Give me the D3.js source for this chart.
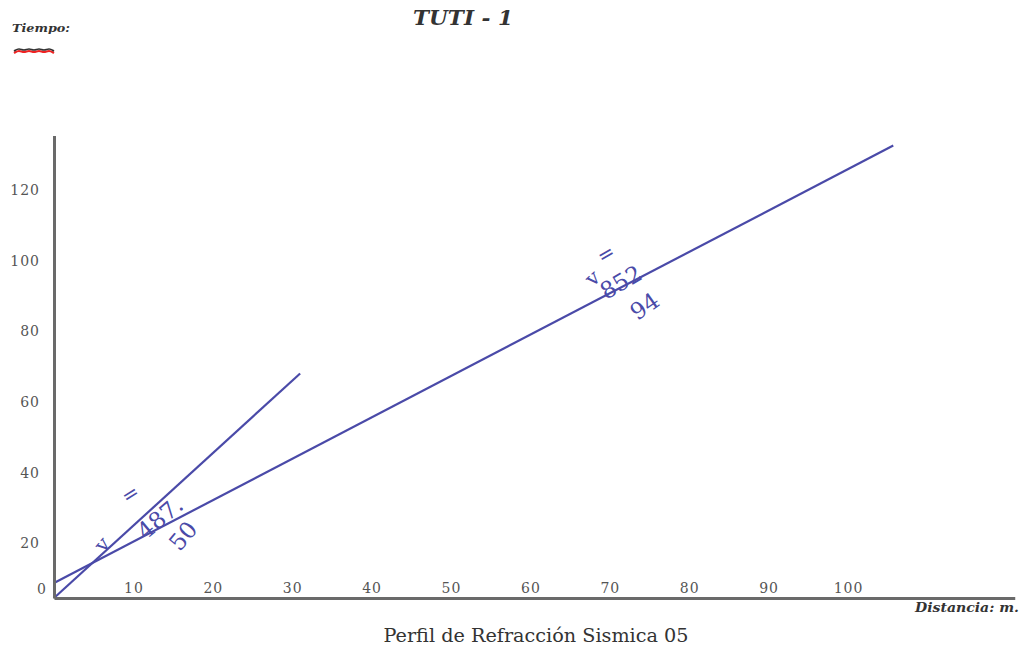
<!DOCTYPE html>
<html>
<head>
<meta charset="utf-8">
<script src="https://cdn.jsdelivr.net/npm/d3@7"></script>
<style>
  html, body { margin: 0; padding: 0; background: #fff; }
  svg { display: block; }
</style>
</head>
<body>
<svg id="chart" width="1024" height="651"></svg>
<script>
// Seismic refraction travel-time plot (distance in m, time in ms)
const lineNames = ["directa", "refractada"];
const velocities = [487.50, 852.94];        // m/s, stated on each line
const interceptTimes = [0, 4.25];            // ms at distance 0
const endDistances = [31.0, 105.7];          // m, where each line stops
const xTickValues = [10, 20, 30, 40, 50, 60, 70, 80, 90, 100];
const yTickValues = [0, 20, 40, 60, 80, 100, 120];

// velocity label pieces: [line index, text, distance, time, rotation, size]
const labelPieces = [
  [0, "v", 6.05, 15.2, -50, 21],
  [0, "=", 9.6, 29.5, -32, 20],
  [0, "487.", 13.35, 22.7, -40, 23],
  [0, "50", 16.25, 17.6, -50, 23],
  [1, "=", 69.5, 97.5, -30, 20],
  [1, "v", 67.8, 90.7, -42, 21],
  [1, "852", 71.4, 89.5, -30, 23],
  [1, "94", 74.4, 82.7, -35, 23]
];

const svg = d3.select("#chart");
const blue = "#4a4aa8";
const axisGray = "#6a6a6a";
const serif = "'DejaVu Serif', 'Liberation Serif', serif";

const x = d3.scaleLinear().domain([0, 121]).range([54, 54 + 121 * 7.94]);
const y = d3.scaleLinear().domain([0, 131]).range([598, 598 - 131 * 3.53]);

// travel-time lines
const lines = lineNames.map((name, i) => {
  const slope = 1000 / velocities[i];
  return [
    [0, interceptTimes[i]],
    [endDistances[i], interceptTimes[i] + endDistances[i] * slope]
  ];
});
const lineGen = d3.line().x(d => x(d[0])).y(d => y(d[1]));
svg.append("g").selectAll("path").data(lines).join("path")
  .attr("d", lineGen)
  .attr("fill", "none")
  .attr("stroke", blue)
  .attr("stroke-width", 2.2);

// x axis: labels sit just above the axis line
const xAxis = svg.append("g")
  .attr("transform", `translate(0,${y(0)})`)
  .call(d3.axisTop(x).tickValues(xTickValues).tickSize(0).tickSizeOuter(0).tickPadding(5));
xAxis.select(".domain").attr("stroke", axisGray).attr("stroke-width", 3);
xAxis.selectAll("text")
  .attr("fill", "#555").attr("font-family", serif).attr("font-size", 14)
  .attr("letter-spacing", 1);

// y axis: labels hang a little below their tick positions
const yAxis = svg.append("g")
  .attr("transform", `translate(${x(0)},0)`)
  .call(d3.axisLeft(y).tickValues(yTickValues).tickSize(0).tickSizeOuter(0).tickPadding(14));
yAxis.select(".domain").attr("stroke", axisGray).attr("stroke-width", 3);
yAxis.selectAll("text")
  .attr("fill", "#555").attr("font-family", serif).attr("font-size", 14)
  .attr("letter-spacing", 1)
  .attr("x", d => d === 0 ? -7 : -14)
  .attr("dy", d => d === 0 ? "-0.35em" : "1.45em");

// velocity labels along the lines
svg.append("g").selectAll("text").data(labelPieces).join("text")
  .attr("transform", d => `translate(${x(d[2])},${y(d[3])}) rotate(${d[4]})`)
  .attr("text-anchor", "middle")
  .attr("dy", "0.35em")
  .attr("font-family", serif)
  .attr("font-size", d => d[5])
  .attr("fill", blue)
  .text(d => d[1]);

// titles and axis captions
svg.append("text")
  .attr("x", 463).attr("y", 25)
  .attr("text-anchor", "middle")
  .attr("font-family", serif).attr("font-style", "italic").attr("font-weight", "bold")
  .attr("font-size", 21).attr("fill", "#333")
  .attr("textLength", 100).attr("lengthAdjust", "spacingAndGlyphs")
  .text("TUTI - 1");

svg.append("text")
  .attr("x", 12).attr("y", 32)
  .attr("font-family", serif).attr("font-style", "italic").attr("font-weight", "bold")
  .attr("font-size", 11).attr("fill", "#333")
  .attr("textLength", 58).attr("lengthAdjust", "spacingAndGlyphs")
  .text("Tiempo:");

// time unit mark under the caption
const squiggle = d3.range(0, 9).map(i => [14 + i * 5, i % 2 === 0 ? 51 : 48]);
svg.append("path")
  .attr("d", d3.line().curve(d3.curveBasis)(squiggle.map(p => [p[0], p[1] + 2])))
  .attr("fill", "none").attr("stroke", "#e22").attr("stroke-width", 2.2);
svg.append("path")
  .attr("d", d3.line().curve(d3.curveBasis)(squiggle))
  .attr("fill", "none").attr("stroke", "#333").attr("stroke-width", 1.6);

svg.append("text")
  .attr("x", 915).attr("y", 612)
  .attr("font-family", serif).attr("font-style", "italic").attr("font-weight", "bold")
  .attr("font-size", 12).attr("fill", "#333")
  .attr("textLength", 104).attr("lengthAdjust", "spacingAndGlyphs")
  .text("Distancia: m.");

svg.append("text")
  .attr("x", 536).attr("y", 642)
  .attr("text-anchor", "middle")
  .attr("font-family", serif)
  .attr("font-size", 19).attr("fill", "#333")
  .attr("textLength", 305).attr("lengthAdjust", "spacingAndGlyphs")
  .text("Perfil de Refracción Sismica 05");
</script>
</body>
</html>
